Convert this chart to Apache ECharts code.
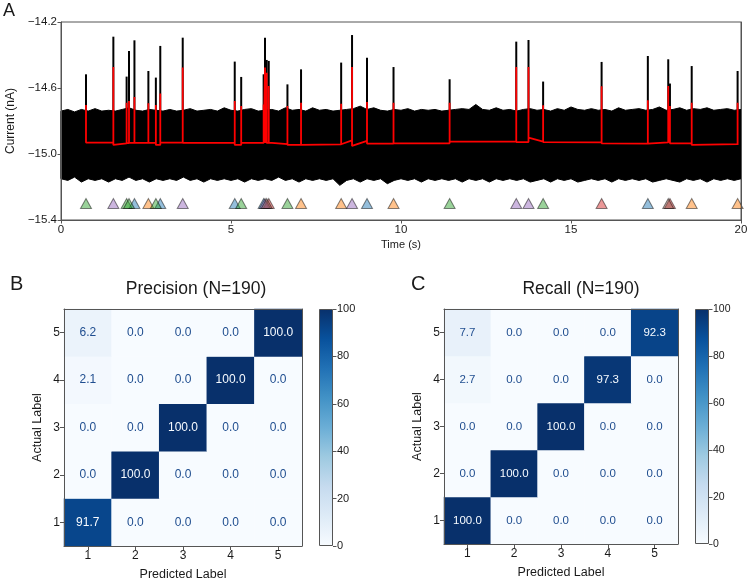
<!DOCTYPE html>
<html>
<head>
<meta charset="utf-8">
<script src="https://cdn.jsdelivr.net/npm/echarts@6/dist/echarts.min.js"></script>
<style>
html, body { margin: 0; padding: 0; background: #fff; }
#chart { width: 750px; height: 583px; }
</style>
</head>
<body>
<div id="chart"></div>
<script>
// panel A: noise band envelope, sampled every 0.2 s
const noiseStep = 0.2;
const noiseUpper = [
  -14.74, -14.73, -14.745, -14.73, -14.74, -14.725, -14.74, -14.735, -14.74, -14.73,
  -14.72, -14.735, -14.74, -14.73, -14.735, -14.74, -14.73, -14.74, -14.735, -14.725,
  -14.74, -14.735, -14.73, -14.74, -14.72, -14.735, -14.74, -14.73, -14.725, -14.74,
  -14.735, -14.73, -14.74, -14.72, -14.735, -14.73, -14.74, -14.72, -14.735, -14.73,
  -14.74, -14.735, -14.73, -14.725, -14.71, -14.73, -14.72, -14.735, -14.74, -14.73,
  -14.735, -14.725, -14.74, -14.73, -14.735, -14.73, -14.74, -14.735, -14.73, -14.725,
  -14.73, -14.70, -14.73, -14.735, -14.72, -14.735, -14.73, -14.74, -14.73, -14.725,
  -14.735, -14.73, -14.74, -14.725, -14.735, -14.715, -14.73, -14.735, -14.725, -14.735,
  -14.73, -14.74, -14.72, -14.735, -14.73, -14.725, -14.735, -14.73, -14.715, -14.735,
  -14.73, -14.72, -14.735, -14.725, -14.73, -14.72, -14.735, -14.73, -14.725, -14.735,
  -14.73
];
const noiseLower = [
  -15.15, -15.16, -15.14, -15.17, -15.15, -15.16, -15.15, -15.17, -15.15, -15.16,
  -15.14, -15.16, -15.15, -15.17, -15.15, -15.16, -15.15, -15.16, -15.14, -15.16,
  -15.15, -15.17, -15.15, -15.16, -15.15, -15.16, -15.15, -15.17, -15.15, -15.16,
  -15.15, -15.16, -15.14, -15.16, -15.15, -15.17, -15.15, -15.16, -15.15, -15.16,
  -15.15, -15.19, -15.16, -15.15, -15.17, -15.15, -15.16, -15.15, -15.18, -15.16,
  -15.15, -15.16, -15.15, -15.17, -15.15, -15.16, -15.15, -15.16, -15.15, -15.17,
  -15.15, -15.16, -15.15, -15.17, -15.15, -15.16, -15.15, -15.16, -15.15, -15.17,
  -15.16, -15.15, -15.17, -15.15, -15.16, -15.15, -15.17, -15.16, -15.15, -15.16,
  -15.15, -15.17, -15.15, -15.16, -15.15, -15.16, -15.15, -15.17, -15.16, -15.15,
  -15.16, -15.17, -15.15, -15.16, -15.15, -15.17, -15.15, -15.16, -15.15, -15.16,
  -15.15
];

// panel A: detected events
const eventTime = [0.735, 1.54, 1.93, 2.0, 2.16, 2.57, 2.79, 2.92, 3.58, 5.11, 5.30,
  5.96, 6.0, 6.05, 6.11, 6.66, 7.06, 8.24, 8.56, 9.0, 9.78, 11.43, 13.39, 13.75,
  14.18, 15.9, 17.26, 17.86, 17.91, 18.55, 19.9];
const blackPeak = [-14.517, -14.289, -14.531, -14.376, -14.311, -14.497, -14.537, -14.345,
  -14.295, -14.44, -14.533, -14.517, -14.295, -14.43, -14.436, -14.578, -14.487, -14.446,
  -14.279, -14.416, -14.473, -14.547, -14.319, -14.309, -14.561, -14.442, -14.406, -14.426,
  -14.573, -14.467, -14.497];
const redPeak = [-14.703, -14.473, -14.69, -14.679, -14.654, -14.693, -14.703, -14.634,
  -14.476, -14.679, -14.709, -14.70, -14.476, -14.507, -14.588, -14.709, -14.69, -14.695,
  -14.473, -14.685, -14.69, -14.69, -14.473, -14.473, -14.705, -14.59, -14.674, -14.588,
  -14.709, -14.69, -14.69];
const baseStart = [-14.931, -14.945, -14.934, -14.933, -14.933, -14.933, -14.945, -14.931,
  -14.933, -14.945, -14.933, -14.933, -14.933, -14.933, -14.931, -14.945, -14.945, -14.941,
  -14.951, -14.937, -14.935, -14.925, -14.928, -14.901, -14.928, -14.935, -14.937, -14.930,
  -14.935, -14.945, -14.945];
const baseEnd = [-14.931, -14.936, -14.934, -14.933, -14.933, -14.933, -14.945, -14.931,
  -14.933, -14.945, -14.933, -14.933, -14.933, -14.933, -14.940, -14.945, -14.942, -14.917,
  -14.921, -14.937, -14.935, -14.925, -14.928, -14.925, -14.930, -14.937, -14.930, -14.930,
  -14.935, -14.940, -14.945];
// 0 blue, 1 orange, 2 green, 3 red, 4 purple, 5 brown
const eventClass = [2, 4, 2, 2, 0, 1, 2, 0, 4, 0, 2, 0, 4, 5, 3, 2, 1, 1, 4, 0, 1, 2, 4, 4,
  2, 3, 0, 5, 3, 1, 1];
const markerLevel = -15.3;
const spikeFoot = -14.75;
const currentTicks = [-15.4, -15.0, -14.6, -14.2];
const timeTicks = [0, 5, 10, 15, 20];

// panels B and C: confusion matrices, rows = actual label 1..5, columns = predicted 1..5
const classLabels = ['1', '2', '3', '4', '5'];
const precisionRows = [
  [91.7, 0.0, 0.0, 0.0, 0.0],
  [0.0, 100.0, 0.0, 0.0, 0.0],
  [0.0, 0.0, 100.0, 0.0, 0.0],
  [2.1, 0.0, 0.0, 100.0, 0.0],
  [6.2, 0.0, 0.0, 0.0, 100.0]
];
const recallRows = [
  [100.0, 0.0, 0.0, 0.0, 0.0],
  [0.0, 100.0, 0.0, 0.0, 0.0],
  [0.0, 0.0, 100.0, 0.0, 0.0],
  [2.7, 0.0, 0.0, 97.3, 0.0],
  [7.7, 0.0, 0.0, 0.0, 92.3]
];
const colorbarTicks = [0, 20, 40, 60, 80, 100];

const blues = ['#f7fbff', '#deebf7', '#c6dbef', '#9ecae1', '#6baed6', '#4292c6', '#2171b5', '#08519c', '#08306b'];
const tab = [
  [31, 119, 180], [255, 127, 14], [44, 160, 44], [214, 39, 40], [148, 103, 189], [140, 86, 75]
];
const FONT = 'Liberation Sans, Arial, sans-serif';
const SPINE = '#555';
const TXT = '#1a1a1a';

const chart = echarts.init(document.getElementById('chart'));

const fmtMinus = v => (v < 0 ? '\u2212' : '') + Math.abs(v).toFixed(1);

// red fitted trace
const redTrace = [];
eventTime.forEach((t, i) => {
  const before = i === 0 ? baseStart[0] : baseEnd[i - 1];
  redTrace.push([t, before], [t, redPeak[i]], [t, baseStart[i]]);
});

const triangleSeries = tab.map((c, k) => ({
  type: 'scatter',
  xAxisIndex: 0, yAxisIndex: 0,
  symbol: 'triangle',
  symbolSize: [11, 10],
  z: 5,
  silent: true,
  itemStyle: {
    color: `rgba(${c[0]},${c[1]},${c[2]},0.6)`,
    borderColor: 'rgba(0,0,0,0.6)',
    borderWidth: 1
  },
  data: eventTime.filter((t, i) => eventClass[i] === k).map(t => [t, markerLevel])
}));

function heatData(rows) {
  const out = [];
  rows.forEach((row, r) => row.forEach((v, c) => {
    out.push({ value: [c, r, v], label: { color: v > 50 ? '#f7fbff' : '#1f4d8f' } });
  }));
  return out;
}

function heatAxes(g, nameGapX, nameGapY) {
  const base = { type: 'category', gridIndex: g, data: classLabels, z: 10 };
  return {
    x: [
      Object.assign({}, base, {
        position: 'bottom',
        axisLine: { show: true, lineStyle: { color: SPINE, width: 1 } },
        axisTick: { show: true, alignWithLabel: true, length: 4, lineStyle: { color: SPINE } },
        axisLabel: { fontSize: 12, color: TXT, margin: 4, fontFamily: FONT },
        name: 'Predicted Label', nameLocation: 'middle', nameGap: nameGapX,
        nameTextStyle: { fontSize: 12.5, color: TXT, fontFamily: FONT }
      }),
      Object.assign({}, base, {
        position: 'top',
        axisLine: { show: true, lineStyle: { color: SPINE, width: 1 } },
        axisTick: { show: false }, axisLabel: { show: false }
      })
    ],
    y: [
      Object.assign({}, base, {
        position: 'left',
        axisLine: { show: true, lineStyle: { color: SPINE, width: 1 } },
        axisTick: { show: true, alignWithLabel: true, length: 4, lineStyle: { color: SPINE } },
        axisLabel: { fontSize: 12, color: TXT, margin: 4, fontFamily: FONT },
        name: 'Actual Label', nameLocation: 'middle', nameGap: nameGapY,
        nameTextStyle: { fontSize: 12.5, color: TXT, fontFamily: FONT }
      }),
      Object.assign({}, base, {
        position: 'right',
        axisLine: { show: true, lineStyle: { color: SPINE, width: 1 } },
        axisTick: { show: false }, axisLabel: { show: false }
      })
    ]
  };
}
const axB = heatAxes(1, 22, 20);
const axC = heatAxes(2, 22, 20);

function colorbarY(g, fs) {
  return {
    type: 'value', gridIndex: g, position: 'right', min: 0, max: 100,
    axisLine: { show: false },
    axisTick: { show: true, length: 3.5, customValues: colorbarTicks, lineStyle: { color: SPINE } },
    axisLabel: { fontSize: fs, color: TXT, margin: 4, customValues: colorbarTicks, fontFamily: FONT },
    splitLine: { show: false }
  };
}
const gradient = new echarts.graphic.LinearGradient(0, 1, 0, 0,
  blues.map((c, i) => ({ offset: i / (blues.length - 1), color: c })));

// noise band: one polygon through the upper edge, back along the lower edge
function renderNoise(params, api) {
  const pts = [];
  noiseUpper.forEach((v, i) => pts.push(api.coord([i * noiseStep, v])));
  for (let i = noiseLower.length - 1; i >= 0; i--) {
    pts.push(api.coord([i * noiseStep, noiseLower[i]]));
  }
  return { type: 'polygon', shape: { points: pts }, style: { fill: '#000', stroke: '#000', lineWidth: 1 } };
}

const option = {
  animation: false,
  backgroundColor: '#fff',
  textStyle: { fontFamily: FONT },
  graphic: [
    { type: 'text', left: 3, top: 2, style: { text: 'A', fontSize: 18, fill: TXT, fontFamily: FONT } },
    { type: 'text', left: 10, top: 274, style: { text: 'B', fontSize: 20, fill: TXT, fontFamily: FONT } },
    { type: 'text', left: 411, top: 274, style: { text: 'C', fontSize: 20, fill: TXT, fontFamily: FONT } },
    { type: 'text', x: 196, y: 289, style: { text: 'Precision (N=190)', fontSize: 17.5, fill: TXT, fontFamily: FONT, textAlign: 'center', textVerticalAlign: 'middle' } },
    { type: 'text', x: 581, y: 289, style: { text: 'Recall (N=190)', fontSize: 17.5, fill: TXT, fontFamily: FONT, textAlign: 'center', textVerticalAlign: 'middle' } }
  ],
  grid: [
    { left: 61, top: 22, width: 680, height: 198, show: true, borderColor: SPINE, borderWidth: 1, outerBoundsMode: 'none' },
    { left: 64, top: 309, width: 238, height: 237, outerBoundsMode: 'none' },
    { left: 444, top: 309, width: 234, height: 235, outerBoundsMode: 'none' },
    { left: 319, top: 309, width: 14, height: 237, outerBoundsMode: 'none' },
    { left: 695, top: 309, width: 14, height: 235, outerBoundsMode: 'none' }
  ],
  xAxis: [
    {
      type: 'value', gridIndex: 0, min: 0, max: 20, z: 10,
      axisLine: { show: true, onZero: false, lineStyle: { color: SPINE } },
      axisTick: { show: true, length: 3.5, customValues: timeTicks, lineStyle: { color: SPINE } },
      axisLabel: { fontSize: 11.5, color: TXT, margin: 4, customValues: timeTicks, fontFamily: FONT },
      splitLine: { show: false },
      name: 'Time (s)', nameLocation: 'middle', nameGap: 19,
      nameTextStyle: { fontSize: 11, color: TXT, fontFamily: FONT }
    },
    axB.x[0], axB.x[1], axC.x[0], axC.x[1],
    { type: 'category', gridIndex: 3, data: ['cb'], show: false },
    { type: 'category', gridIndex: 4, data: ['cb'], show: false }
  ],
  yAxis: [
    {
      type: 'value', gridIndex: 0, min: -15.4, max: -14.2, z: 10,
      axisLine: { show: true, onZero: false, lineStyle: { color: SPINE } },
      axisTick: { show: true, length: 3.5, customValues: currentTicks, lineStyle: { color: SPINE } },
      axisLabel: { fontSize: 11.5, color: TXT, margin: 4, customValues: currentTicks, formatter: fmtMinus, fontFamily: FONT },
      splitLine: { show: false },
      name: 'Current (nA)', nameLocation: 'middle', nameGap: 42,
      nameTextStyle: { fontSize: 12, color: TXT, fontFamily: FONT }
    },
    {
      type: 'value', gridIndex: 0, min: -15.4, max: -14.2, position: 'right', z: 10,
      axisLine: { show: true, onZero: false, lineStyle: { color: SPINE } },
      axisTick: { show: false }, axisLabel: { show: false }, splitLine: { show: false }
    },
    axB.y[0], axB.y[1], axC.y[0], axC.y[1],
    colorbarY(3, 11), colorbarY(4, 10.5)
  ],
  visualMap: [
    { type: 'continuous', show: false, seriesIndex: 3 + tab.length, min: 0, max: 100, inRange: { color: blues } },
    { type: 'continuous', show: false, seriesIndex: 4 + tab.length, min: 0, max: 100, inRange: { color: blues } }
  ],
  series: [
    {
      type: 'custom', xAxisIndex: 0, yAxisIndex: 0, silent: true, z: 1,
      encode: { x: 0, y: 1 },
      data: [[0, noiseUpper[0]]],
      renderItem: renderNoise
    },
    {
      type: 'custom', xAxisIndex: 0, yAxisIndex: 0, silent: true, z: 2,
      encode: { x: 0, y: 1 },
      data: eventTime.map((t, i) => [t, blackPeak[i]]),
      renderItem: (params, api) => {
        const p0 = api.coord([api.value(0), spikeFoot]);
        const p1 = api.coord([api.value(0), api.value(1)]);
        return {
          type: 'line',
          shape: { x1: p0[0], y1: p0[1], x2: p1[0], y2: p1[1] },
          style: { stroke: '#000', lineWidth: 2 }
        };
      }
    },
    {
      type: 'line', xAxisIndex: 0, yAxisIndex: 0, symbol: 'none', silent: true, z: 3,
      lineStyle: { color: '#ff0000', width: 1.8 },
      data: redTrace
    },
    ...triangleSeries,
    {
      type: 'heatmap', xAxisIndex: 1, yAxisIndex: 2, silent: true,
      label: { show: true, fontSize: 12, fontFamily: FONT, formatter: p => p.value[2].toFixed(1) },
      data: heatData(precisionRows)
    },
    {
      type: 'heatmap', xAxisIndex: 3, yAxisIndex: 4, silent: true,
      label: { show: true, fontSize: 11.5, fontFamily: FONT, formatter: p => p.value[2].toFixed(1) },
      data: heatData(recallRows)
    },
    {
      type: 'bar', xAxisIndex: 5, yAxisIndex: 6, barWidth: '100%', silent: true,
      itemStyle: { color: gradient, borderColor: SPINE, borderWidth: 1 },
      data: [colorbarTicks[colorbarTicks.length - 1]]
    },
    {
      type: 'bar', xAxisIndex: 6, yAxisIndex: 7, barWidth: '100%', silent: true,
      itemStyle: { color: gradient, borderColor: SPINE, borderWidth: 1 },
      data: [colorbarTicks[colorbarTicks.length - 1]]
    }
  ]
};

chart.setOption(option);
</script>
</body>
</html>
